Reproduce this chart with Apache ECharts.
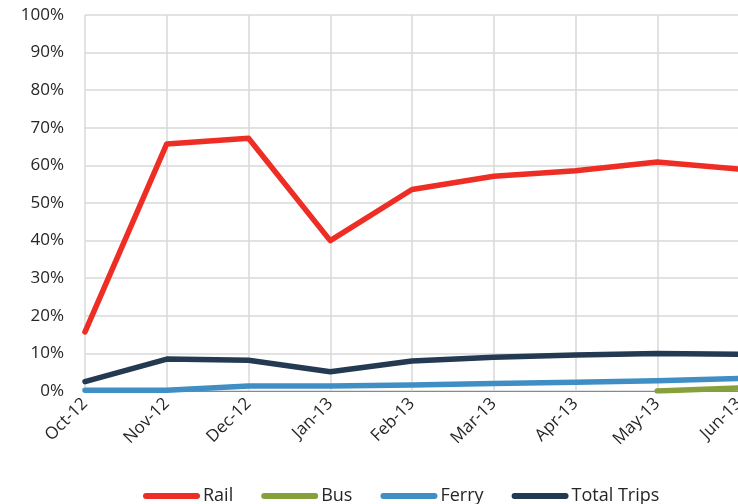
<!DOCTYPE html>
<html>
<head>
<meta charset="utf-8">
<script src="https://cdn.jsdelivr.net/npm/echarts@6/dist/echarts.min.js"></script>
<style>
  html, body { margin: 0; padding: 0; background: #fff; }
  #chart { width: 738px; height: 504px; }
</style>
</head>
<body>
<div id="chart"></div>
<script>
// 数据
const months = ['Oct-12', 'Nov-12', 'Dec-12', 'Jan-13', 'Feb-13', 'Mar-13', 'Apr-13', 'May-13', 'Jun-13']
const rail = [15.7, 65.7, 67.2, 40.0, 53.6, 57.1, 58.6, 60.9, 59.0]
const bus = [null, null, null, null, null, null, null, 0, 0.8]
const ferry = [0.2, 0.2, 1.3, 1.3, 1.6, 2.0, 2.3, 2.7, 3.3]
const totalTrips = [2.5, 8.5, 8.2, 5.1, 8.0, 9.0, 9.6, 10.0, 9.8]

const font = 'Open Sans'
const textColor = '#262626'

// 折线系列
function lineSeries(name, data, color) {
  return {
    name: name,
    type: 'line',
    data: data,
    showSymbol: false,
    symbol: 'none',
    connectNulls: false,
    lineStyle: { width: 5.5, color: color, cap: 'round', join: 'round' },
    itemStyle: { color: color }
  }
}

const myChart = echarts.init(document.querySelector('#chart'))
const option = {
  animation: false,
  grid: { left: 85, top: 15, width: 654, bottom: 113, containLabel: false, outerBoundsMode: 'none' },
  legend: {
    left: 138,
    top: 482,
    itemWidth: 57,
    itemHeight: 6,
    itemGap: 28,
    icon: 'path://M3,0 L54,0 A3,3 0 0 1 54,6 L3,6 A3,3 0 0 1 3,0 Z',
    textStyle: { fontFamily: font, fontSize: 18, color: textColor, padding: [0, 0, 0, -2] },
    data: ['Rail', 'Bus', 'Ferry', 'Total Trips']
  },
  xAxis: {
    type: 'category',
    data: months,
    boundaryGap: false,
    axisLine: { lineStyle: { color: '#898989', width: 1 } },
    axisTick: { show: false },
    splitLine: { show: true, lineStyle: { color: '#d9d9d9', width: 1.5 } },
    axisLabel: {
      interval: 0,
      rotate: 45,
      margin: 10,
      fontFamily: font,
      fontSize: 17,
      color: textColor
    }
  },
  yAxis: {
    type: 'value',
    min: 0,
    max: 100,
    interval: 10,
    axisLine: { show: false },
    axisTick: { show: false },
    splitLine: { lineStyle: { color: '#d9d9d9', width: 1.5 } },
    axisLabel: {
      margin: 21,
      fontFamily: font,
      fontSize: 17,
      color: textColor,
      formatter: '{value}%'
    }
  },
  series: [
    lineSeries('Rail', rail, '#ee2e24'),
    lineSeries('Bus', bus, '#86a03c'),
    lineSeries('Ferry', ferry, '#3f8fc5'),
    lineSeries('Total Trips', totalTrips, '#243a52')
  ]
}
myChart.setOption(option)
</script>
</body>
</html>
